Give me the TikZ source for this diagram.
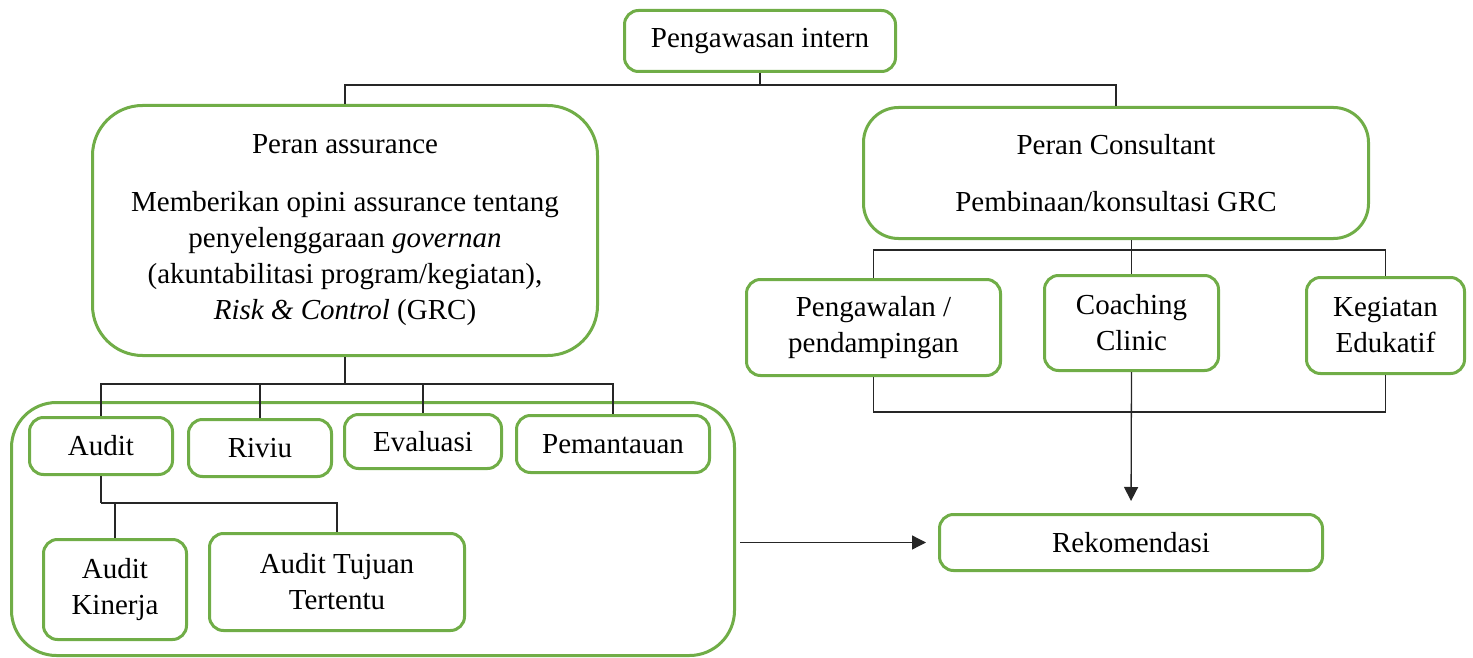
\documentclass[tikz,border=0pt]{standalone}
\usepackage{fontspec}
\setmainfont{Liberation Serif}
\usetikzlibrary{arrows.meta}
\definecolor{hijau}{HTML}{70AD47}
\tikzset{
  kotak/.style={draw=hijau, line width=3pt, rounded corners=14pt, align=center, inner sep=0pt},
  garis/.style={draw=black!85, line width=1.3pt},
  panah/.style={garis, -{Triangle[length=14pt,width=14pt]}}
}
\begin{document}
\begin{tikzpicture}[x=1pt, y=-1pt, font=\fontsize{29}{36}\selectfont]
  \useasboundingbox (0,0) rectangle (1473,658);

  % Boxes
  \node[kotak, minimum width=271pt, minimum height=61pt] (pengawasan) at (760,41) {Pengawasan intern};

  \node[kotak, rounded corners=50pt, minimum width=505pt, minimum height=250pt] (assurance) at (345,230.5)
    {Peran assurance\\[22pt]
     Memberikan opini assurance tentang\\
     penyelenggaraan \textit{governan}\\
     (akuntabilitasi program/kegiatan),\\
     \textit{Risk \& Control} (GRC)};

  \node[kotak, rounded corners=35pt, minimum width=505pt, minimum height=131pt] (consultant) at (1116,173)
    {Peran Consultant\\[21pt] Pembinaan/konsultasi GRC};

  \node[kotak, rounded corners=45pt, minimum width=723pt, minimum height=253pt] (wadah) at (373,529) {};

  \node[kotak, minimum width=143pt, minimum height=57pt] (audit) at (101,446) {Audit};
  \node[kotak, minimum width=143pt, minimum height=57pt] (riviu) at (260,448) {Riviu};
  \node[kotak, minimum width=157pt, minimum height=54pt] (evaluasi) at (423,441.5) {Evaluasi};
  \node[kotak, minimum width=193pt, minimum height=57pt] (pemantauan) at (613,444) {Pemantauan};

  \node[kotak, minimum width=143pt, minimum height=100pt] (kinerja) at (115,589.5) {Audit\\Kinerja};
  \node[kotak, minimum width=255pt, minimum height=97pt] (tujuan) at (337,582) {Audit Tujuan\\Tertentu};

  \node[kotak, minimum width=254pt, minimum height=96pt] (pengawalan) at (873.5,327.5) {Pengawalan /\\pendampingan};
  \node[kotak, minimum width=174pt, minimum height=95pt] (coaching) at (1131.5,323) {Coaching\\Clinic};
  \node[kotak, minimum width=158pt, minimum height=96pt] (edukatif) at (1385.5,325.5) {Kegiatan\\Edukatif};

  \node[kotak, minimum width=383pt, minimum height=56pt] (rekomendasi) at (1131,542.5) {Rekomendasi};

  % Top level
  \draw[garis] (pengawasan.south) -- ++(0,12) coordinate (p1);
  \draw[garis] (p1) -| (assurance.north);
  \draw[garis] (p1) -| (consultant.north);

  % Assurance
  \draw[garis] (assurance.south) -- ++(0,27) coordinate (a1);
  \draw[garis] (a1) -| (audit.north);
  \draw[garis] (a1) -| (riviu.north);
  \draw[garis] (a1) -| (evaluasi.north);
  \draw[garis] (a1) -| (pemantauan.north);

  \draw[garis] (audit.south) -- ++(0,27) coordinate (b1);
  \draw[garis] (b1) -| (kinerja.north);
  \draw[garis] (b1) -| (tujuan.north);

  % Consultant
  \draw[garis] (consultant.south -| coaching.north) -- (coaching.north);
  \draw[garis] (pengawalan.north) -- ++(0,-28) -| (edukatif.north);
  \draw[garis] (pengawalan.south) -- ++(0,35) -| (edukatif.south);

  % Arrows
  \draw[panah, shorten >=12pt] (coaching.south) -- (rekomendasi.north);
  \draw[panah, shorten <=4pt, shorten >=12pt] (wadah.east |- rekomendasi.west) -- (rekomendasi.west);
\end{tikzpicture}
\end{document}
